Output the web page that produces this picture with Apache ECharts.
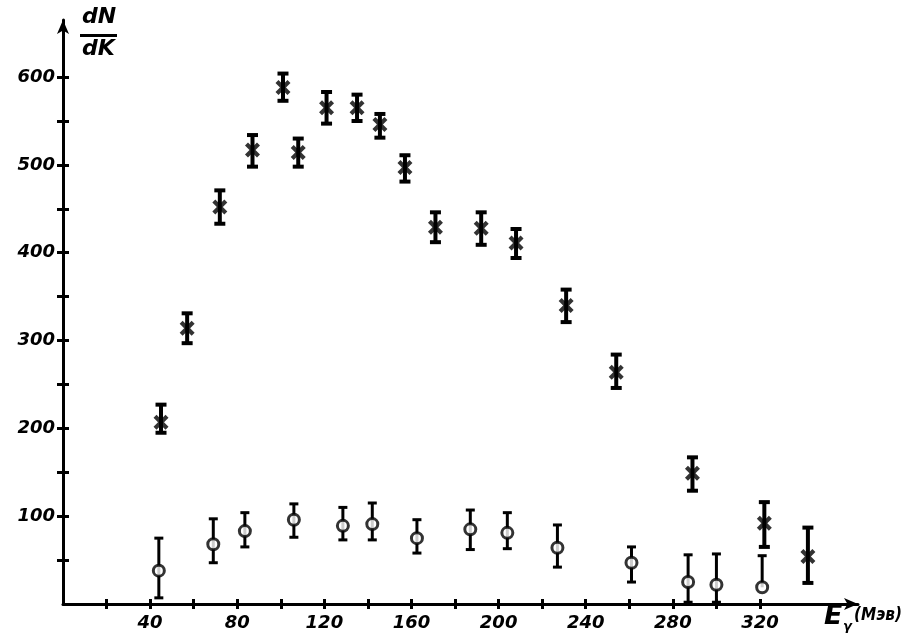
<!DOCTYPE html>
<html><head><meta charset="utf-8">
<script src="https://cdn.jsdelivr.net/npm/echarts@6/dist/echarts.min.js"></script>
<style>html,body{margin:0;padding:0;background:#fff}#c{width:923px;height:644px}</style>
</head><body><div id="c"></div>
<script>
var xTickLabels = [40, 80, 120, 160, 200, 240, 280, 320];
var xTicks = [20, 40, 60, 80, 100, 120, 140, 160, 180, 200, 220, 240, 260, 280, 300, 320];
var yTickLabels = [100, 200, 300, 400, 500, 600];
var yTicks = [50, 100, 150, 200, 250, 300, 350, 400, 450, 500, 550, 600];

var crossX  = [45, 57, 72, 87, 101, 108, 121, 135, 145.5, 157, 171, 192, 208, 231, 254, 289, 322, 342];
var crossY  = [207, 314, 452, 517, 588, 514, 565, 565, 546, 497, 429, 428, 411, 340, 264, 149, 92, 54];
var crossHi = [227, 331, 471, 534, 604, 530, 583, 580, 558, 511, 446, 446, 427, 358, 284, 167, 116, 87];
var crossLo = [195, 297, 433, 498, 573, 498, 547, 550, 531, 481, 412, 409, 394, 321, 246, 129, 65, 24];

var circX  = [44, 69, 83.5, 106, 128.5, 142, 162.5, 187, 204, 227, 261, 287, 300, 321];
var circY  = [38, 68, 83, 96, 89, 91, 75, 85, 81, 64, 47, 25, 22, 19];
var circHi = [75, 97, 104, 114, 110, 115, 96, 107, 104, 90, 65, 56, 57, 55];
var circLo = [7, 47, 65, 76, 73, 73, 58, 62, 63, 42, 25, 2, 2, 19];

function zip2(a, b) { return a.map(function (v, i) { return [v, b[i]]; }); }

function errRender(capW, lw) {
  return function (params, api) {
    var x = api.value(0), lo = api.value(1), hi = api.value(2);
    var pLo = api.coord([x, lo]), pHi = api.coord([x, hi]);
    var st = { stroke: '#000', lineWidth: lw };
    var kids = [
      { type: 'line', shape: { x1: pLo[0], y1: pLo[1], x2: pHi[0], y2: pHi[1] }, style: st },
      { type: 'line', shape: { x1: pHi[0] - capW / 2, y1: pHi[1], x2: pHi[0] + capW / 2, y2: pHi[1] }, style: st }
    ];
    if (lo !== api.value(3)) {
      kids.push({ type: 'line', shape: { x1: pLo[0] - capW / 2, y1: pLo[1], x2: pLo[0] + capW / 2, y2: pLo[1] }, style: st });
    }
    return { type: 'group', children: kids };
  };
}

var labelFont = { color: '#000', fontSize: 18, fontWeight: 'bold', fontStyle: 'italic', fontFamily: 'DejaVu Sans' };
var crossPath = 'path://M2,0 L5,3 L8,0 L10,2 L7,5 L10,8 L8,10 L5,7 L2,10 L0,8 L3,5 L0,2 Z';
var tickStyle = { color: '#000', width: 3 };

var chart = echarts.init(document.getElementById('c'), null, { renderer: 'canvas' });
chart.setOption({
  animation: false,
  backgroundColor: '#fff',
  grid: { left: 63, right: 65, top: 20, bottom: 40, containLabel: false },
  xAxis: [{
    type: 'value', min: 0, max: 365, interval: 20,
    axisLine: { lineStyle: { color: '#000', width: 3 }, symbol: ['none', 'arrow'], symbolSize: [9, 14] },
    axisTick: { show: true, length: 5, inside: false, customValues: xTicks, lineStyle: tickStyle },
    axisLabel: Object.assign({ margin: 10, customValues: xTickLabels }, labelFont),
    splitLine: { show: false }
  }, {
    type: 'value', min: 0, max: 365, interval: 20, position: 'bottom',
    axisLine: { show: false },
    axisTick: { show: true, length: 5, inside: true, customValues: xTicks, lineStyle: tickStyle },
    axisLabel: { show: false }, splitLine: { show: false }
  }],
  yAxis: [{
    type: 'value', min: 0, max: 665, interval: 50,
    axisLine: { lineStyle: { color: '#000', width: 3 }, symbol: ['none', 'arrow'], symbolSize: [9, 14] },
    axisTick: { show: true, length: 6, inside: false, customValues: yTicks, lineStyle: tickStyle },
    axisLabel: Object.assign({ margin: 8, customValues: yTickLabels }, labelFont),
    splitLine: { show: false }
  }, {
    type: 'value', min: 0, max: 665, interval: 50, position: 'left',
    axisLine: { show: false },
    axisTick: { show: true, length: 6, inside: true, customValues: yTicks, lineStyle: tickStyle },
    axisLabel: { show: false }, splitLine: { show: false }
  }],
  graphic: [
    { type: 'text', left: 82, top: 6, style: { text: 'dN', fill: '#000', font: 'italic bold 22px "DejaVu Sans"' } },
    { type: 'rect', left: 80, top: 34, shape: { width: 37, height: 3 }, style: { fill: '#000' } },
    { type: 'text', left: 82, top: 38, style: { text: 'dK', fill: '#000', font: 'italic bold 22px "DejaVu Sans"' } },
    { type: 'text', left: 824, top: 603, style: { text: 'E', fill: '#000', font: 'italic bold 27px "DejaVu Sans"' } },
    { type: 'text', left: 843, top: 620, style: { text: 'γ', fill: '#000', font: 'italic bold 13px "DejaVu Sans"' } },
    { type: 'text', left: 854, top: 607, style: { text: '(Мэв)', fill: '#000', font: 'italic bold 17px "DejaVu Sans Condensed"' } }
  ],
  series: [
    { type: 'custom', renderItem: errRender(11, 4), data: crossX.map(function (x, i) { return [x, crossLo[i], crossHi[i], -1]; }), encode: { x: 0, y: [1, 2] }, z: 2 },
    { type: 'custom', renderItem: errRender(9, 3), data: circX.map(function (x, i) { return [x, circLo[i], circHi[i], circY[i]]; }), encode: { x: 0, y: [1, 2] }, z: 2 },
    { type: 'scatter', data: zip2(crossX, crossY), symbol: crossPath, symbolSize: 15, itemStyle: { color: '#000' }, z: 3 },
    { type: 'scatter', data: zip2(circX, circY), symbol: 'circle', symbolSize: 11, itemStyle: { color: '#fff', borderColor: '#000', borderWidth: 3 }, z: 3 }
  ]
});
</script></body></html>
